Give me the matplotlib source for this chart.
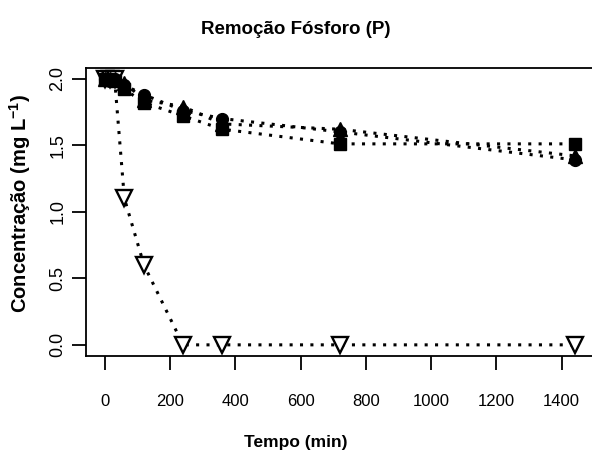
import matplotlib
matplotlib.use("Agg")
import matplotlib.pyplot as plt

# tempo (min) e concentração (mg/L)
tempo = [0, 15, 30, 60, 120, 240, 360, 720, 1440]
p_quadrado = [2.0, 2.0, 1.98, 1.92, 1.82, 1.72, 1.62, 1.51, 1.51]
p_circulo = [2.0, 1.98, 2.0, 1.95, 1.88, 1.76, 1.70, 1.60, 1.39]
p_triangulo = [2.0, 2.0, 2.0, 1.97, 1.84, 1.79, 1.66, 1.62, 1.42]
p_aberto = [2.0, 2.0, 2.0, 1.1, 0.6, 0.0, 0.0, 0.0, 0.0]

xticks = [0, 200, 400, 600, 800, 1000, 1200, 1400]
yticks = [0.0, 0.5, 1.0, 1.5, 2.0]

plt.rcParams["font.family"] = ["Liberation Sans", "DejaVu Sans"]
plt.rcParams["mathtext.fontset"] = "custom"
plt.rcParams["mathtext.rm"] = "Liberation Sans:bold"
plt.rcParams["mathtext.bf"] = "Liberation Sans:bold"

fig = plt.figure(figsize=(5.92, 4.54), dpi=100)
ax = fig.add_axes([86 / 592, 1 - 355.5 / 454, 507.5 / 592, 287.5 / 454])

ls = (0, (1.0, 2.4))
ax.plot(tempo, p_aberto, linestyle=ls, color="black", lw=2.2, marker="v",
        ms=11, mfc="white", mec="black", mew=1.7)
ax.plot(tempo, p_circulo, linestyle=ls, color="black", lw=2.2, marker="o", ms=8.5)
ax.plot(tempo, p_triangulo, linestyle=ls, color="black", lw=2.2, marker="^", ms=10)
ax.plot(tempo, p_quadrado, linestyle=ls, color="black", lw=2.2, marker="s", ms=8.5)

ax.set_xlim(-57.6, 1497.6)
ax.set_ylim(-0.08, 2.08)
ax.set_xticks(xticks)
ax.set_yticks(yticks)
ax.set_xticklabels([str(v) for v in xticks], fontsize=12)
ax.set_yticklabels(["%.1f" % v for v in yticks], rotation=90, va="center", fontsize=13)
ax.tick_params(axis="x", length=10, width=1.3, pad=18)
ax.tick_params(axis="y", length=10, width=1.3, pad=4)
for s in ax.spines.values():
    s.set_linewidth(1.3)

fig.text(0.5, 1 - 30 / 454, "Remoção Fósforo (P)", ha="center", va="center",
         fontsize=13.5, fontweight="bold")
fig.text(0.5, 1 - 442 / 454, "Tempo (min)", ha="center", va="center",
         fontsize=12.5, fontweight="bold")
fig.text(20 / 592, 1 - 203 / 454, r"Concentração (mg L$^{-1}$)", ha="center", va="center",
         rotation=90, fontsize=14.5, fontweight="bold")

fig.savefig("out.png", dpi=100)
